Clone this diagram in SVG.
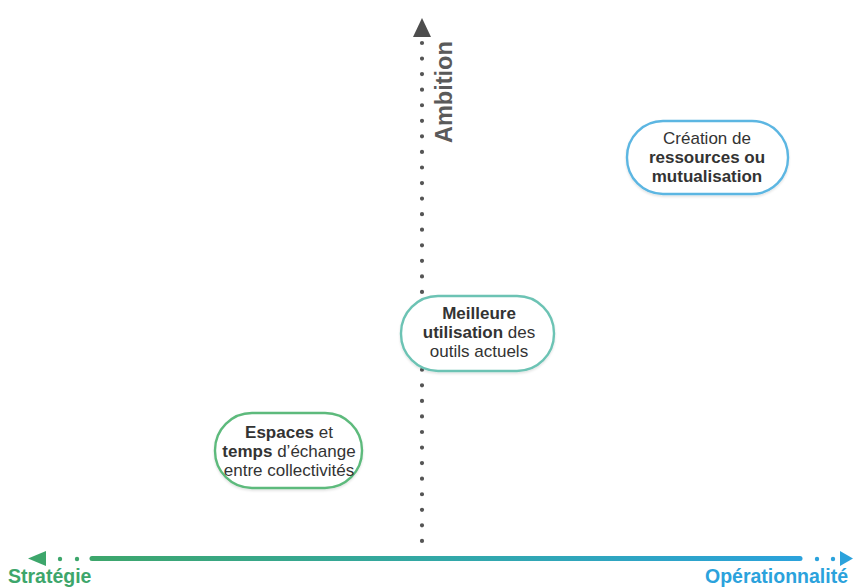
<svg xmlns="http://www.w3.org/2000/svg" width="853" height="588" viewBox="0 0 853 588">
  <defs>
    <linearGradient id="axisGrad" x1="90" y1="0" x2="802" y2="0" gradientUnits="userSpaceOnUse">
      <stop offset="0" stop-color="#3da66b"/>
      <stop offset="0.5" stop-color="#32a8a8"/>
      <stop offset="1" stop-color="#2ba2dc"/>
    </linearGradient>
    <filter id="soft" x="-10%" y="-10%" width="120%" height="130%">
      <feDropShadow dx="0" dy="1.5" stdDeviation="1.2" flood-color="#000" flood-opacity="0.12"/>
    </filter>
    <style>
      .txt { font-family: "Liberation Sans", Arial, sans-serif; font-size: 17px; fill: #333; text-anchor: middle; }
      .b { font-weight: bold; }
      .bubble { fill: #fff; stroke-width: 2.4; filter: url(#soft); }
      .axis-label { font-family: "Liberation Sans", Arial, sans-serif; font-weight: bold; font-size: 19.5px; }
    </style>
  </defs>

  <rect width="853" height="588" fill="#fff"/>

  <g id="connectors">
    <!-- vertical axis: Ambition -->
    <line x1="422" y1="43" x2="422" y2="542" stroke="#555" stroke-width="4.2" stroke-linecap="round" stroke-dasharray="0 15.56"/>
    <polygon points="413,37 431,37 422,18" fill="#4d4d4d"/>
    <text x="452" y="143" transform="rotate(-90 452 143)" font-family="Liberation Sans, Arial, sans-serif" font-weight="bold" font-size="23.5" fill="#5a5a5a">Ambition</text>

    <!-- horizontal axis: Stratégie → Opérationnalité -->
    <line x1="92" y1="558.5" x2="800" y2="558.5" stroke="url(#axisGrad)" stroke-width="5" stroke-linecap="round"/>
    <polygon points="28,558.5 46,551 46,566" fill="#3da66b"/>
    <circle cx="60" cy="559" r="2.2" fill="#3da66b"/>
    <circle cx="77" cy="559" r="2.2" fill="#3da66b"/>
    <circle cx="817" cy="559" r="2.2" fill="#2ba2dc"/>
    <circle cx="833" cy="559" r="2.2" fill="#2ba2dc"/>
    <polygon points="853,558.5 840,551 840,566" fill="#2ba2dc"/>
    <text class="axis-label" x="8" y="583" fill="#3da66b">Stratégie</text>
    <text class="axis-label" x="848" y="583" fill="#2ba2dc" text-anchor="end">Opérationnalité</text>
  </g>

  <g id="node-ressources">
    <rect class="bubble" x="627" y="121" width="161" height="73" rx="36" stroke="#5cb6e2"/>
    <text class="txt" x="707" y="144">Création de</text>
    <text class="txt b" x="707" y="163">ressources ou</text>
    <text class="txt b" x="707" y="182">mutualisation</text>
  </g>

  <g id="node-outils">
    <rect class="bubble" x="401" y="296" width="153" height="75" rx="37" stroke="#6cc3b4"/>
    <text class="txt b" x="479" y="319">Meilleure</text>
    <text class="txt" x="479" y="338"><tspan class="b">utilisation</tspan> des</text>
    <text class="txt" x="479" y="357">outils actuels</text>
  </g>

  <g id="node-espaces">
    <rect class="bubble" x="215" y="413" width="147" height="75" rx="37" stroke="#5dba7c"/>
    <text class="txt" x="289" y="438"><tspan class="b">Espaces</tspan> et</text>
    <text class="txt" x="289" y="457"><tspan class="b">temps</tspan> d’échange</text>
    <text class="txt" x="289" y="476">entre collectivités</text>
  </g>
</svg>
